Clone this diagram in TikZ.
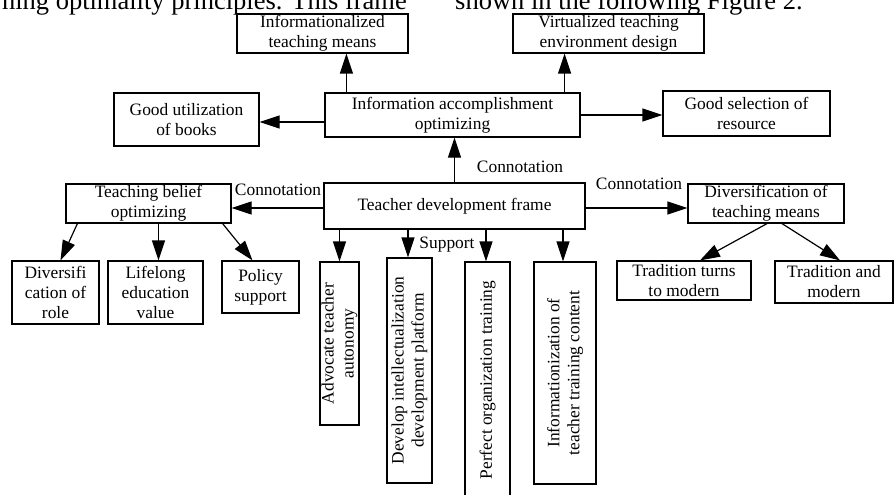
\documentclass[tikz,border=0pt]{standalone}
\usepackage{fontspec}
\setmainfont{Liberation Serif}
\usetikzlibrary{arrows.meta}
\tikzset{
  box/.style={draw, line width=1.2pt, inner sep=0pt, align=center, font=\fontsize{17.4}{20}\selectfont},
  lbl/.style={inner sep=0pt, font=\fontsize{17.4}{20}\selectfont},
  arr/.style={line width=1.2pt, -{Triangle[length=20pt,width=13pt]}},
  paper/.style={inner sep=0pt, font=\fontsize{26.5}{30}\selectfont}
}
\begin{document}
\begin{tikzpicture}[x=1pt,y=-1pt]
\useasboundingbox (0,0) rectangle (895,495);
\clip (0,0) rectangle (895,495);
% clipped paper text
\node[paper, anchor=base east] (p1) at (407,9.3) {ning optimality principles. This frame};
\node[paper, anchor=base west] (p2) at (455,9.3) {shown in the following Figure 2.};
% boxes
\node[box, minimum width=255pt, minimum height=44pt] (info) at (452.5,115) {Information accomplishment\\optimizing};
\node[box, minimum width=171pt, minimum height=39pt] (infmeans) at (322.5,33.5) {Informationalized\\teaching means};
\node[box, minimum width=191pt, minimum height=39pt] (virt) at (608.5,33.5) {Virtualized teaching\\environment design};
\node[box, minimum width=145pt, minimum height=53pt] (books) at (186.5,119.5) {Good utilization\\of books};
\node[box, minimum width=167pt, minimum height=45pt] (select) at (746.5,113.5) {Good selection of\\resource};
\node[box, minimum width=261pt, minimum height=46pt] (tdf) at (454.5,206) {Teacher development frame};
\node[box, minimum width=165pt, minimum height=39pt] (tbo) at (148.5,203.5) {Teaching belief\\optimizing};
\node[box, minimum width=156pt, minimum height=39pt] (dtm) at (766,203.5) {Diversification of\\teaching means};
\node[box, minimum width=87pt, minimum height=63pt] (role) at (55.5,292.5) {Diversifi\\cation of\\role};
\node[box, minimum width=95pt, minimum height=63pt] (life) at (155.5,292.5) {Lifelong\\education\\value};
\node[box, minimum width=77pt, minimum height=52pt] (policy) at (260.5,287) {Policy\\support};
\node[box, rotate=90, minimum width=163pt, minimum height=39pt] (adv) at (339.5,343.5) {Advocate teacher\\autonomy};
\node[box, rotate=90, minimum width=225pt, minimum height=45pt] (dev) at (409.5,370.5) {Develop intellectualization\\development platform};
\node[box, rotate=90, minimum width=236pt, minimum height=45pt] (perf) at (487.5,380) {Perfect organization training};
\node[box, rotate=90, minimum width=222pt, minimum height=62pt] (infz) at (565,373) {Informationization of\\teacher training content};
\node[box, minimum width=134pt, minimum height=39pt] (trad1) at (684,280.5) {Tradition turns\\to modern};
\node[box, minimum width=118pt, minimum height=42pt] (trad2) at (834,282) {Tradition and\\modern};
% labels
\node[lbl] (c1) at (520,167) {Connotation};
\node[lbl] (c2) at (278,190) {Connotation};
\node[lbl] (c3) at (639,184) {Connotation};
\node[lbl] (sup) at (447,245) {Support};
% connectors
\draw[arr] ([xshift=22pt]info.north west) -- ([xshift=22pt]info.north west |- infmeans.south);
\draw[arr] ([xshift=-16pt]info.north east) -- ([xshift=-16pt]info.north east |- virt.south);
\draw[arr] ([yshift=-7pt]info.west) -- ([yshift=-7pt]info.west -| books.east);
\draw[arr] (info.east) -- (info.east -| select.west);
\draw[arr] (tdf.north) -- (tdf.north |- info.south);
\draw[arr] ([yshift=-2pt]tdf.west) -- ([yshift=-2pt]tdf.west -| tbo.east);
\draw[arr] ([yshift=-2pt]tdf.east) -- ([yshift=-2pt]tdf.east -| dtm.west);
\draw[arr] ([xshift=12pt]tbo.south west) -- ([xshift=5pt]role.north);
\draw[arr] ([xshift=3pt]life.north |- tbo.south) -- ([xshift=3pt]life.north);
\draw[arr] ([xshift=-9pt]tbo.south east) -- ([xshift=-8pt]policy.north);
\draw[arr] (adv.east |- tdf.south) -- (adv.east);
\draw[arr] ([xshift=-1.5pt]dev.east |- tdf.south) -- ([xshift=-1.5pt]dev.east);
\draw[arr] ([xshift=-1.5pt]perf.east |- tdf.south) -- ([xshift=-1.5pt]perf.east);
\draw[arr] ([xshift=-2pt]infz.east |- tdf.south) -- ([xshift=-2pt]infz.east);
\draw[arr] ([xshift=1pt]dtm.south) -- ([xshift=16pt]trad1.north);
\draw[arr] ([xshift=16pt]dtm.south) -- ([xshift=6pt]trad2.north);
\end{tikzpicture}
\end{document}
